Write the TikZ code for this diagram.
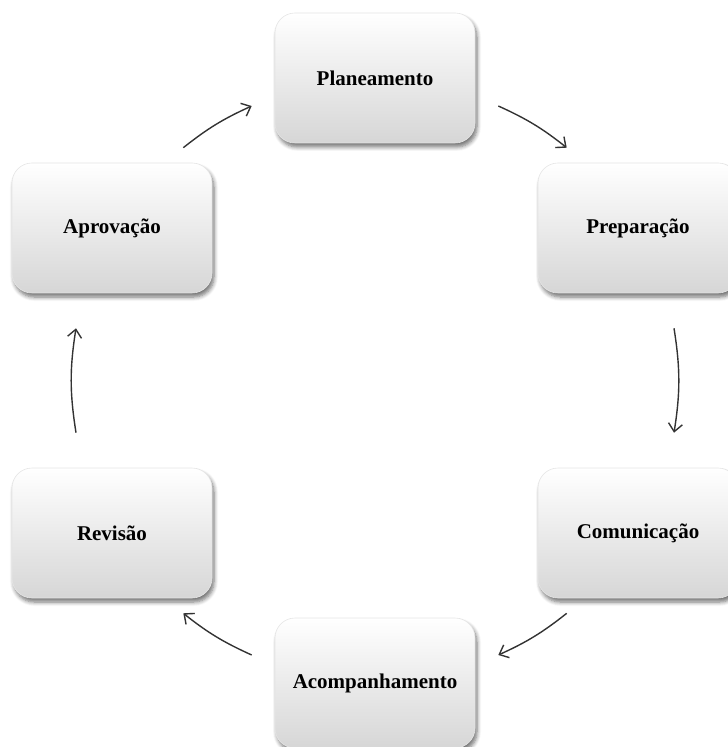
\documentclass[tikz,border=0pt]{standalone}
\usepackage{fontspec}
\setmainfont{Liberation Serif}
\usetikzlibrary{arrows.meta,shadows.blur}

\begin{document}
\begin{tikzpicture}[x=0.5pt,y=-0.5pt]

\tikzset{
  stage/.style={rectangle, rounded corners=10pt, minimum width=100pt, minimum height=65pt, inner sep=0pt,
    draw=black!10, line width=0.3pt, top color=white, middle color=black!1, bottom color=black!16,
    blur shadow={shadow xshift=1pt, shadow yshift=-2pt, shadow blur steps=6, shadow blur radius=2pt, shadow opacity=55},
    font=\fontsize{10.5}{12}\selectfont\bfseries},
  flow/.style={draw=black!80, line width=0.7pt, -{Straight Barb[length=4pt,width=7pt]}}
}

\useasboundingbox (0,0) rectangle (727,747);

\node[stage] (plan) at (375,78) {Planeamento};
\node[stage] (prep) at (638,228) {Preparação};
\node[stage] (comm) at (638,533) {Comunicação};
\node[stage] (acomp) at (375,683) {Acompanhamento};
\node[stage] (rev) at (112,533) {Revisão};
\node[stage] (aprov) at (112,228) {Aprovação};

\draw[flow] ([shift={(-29,-15)}]aprov.north east) to[bend left=7] ([shift={(-23,28)}]plan.west);
\draw[flow] ([shift={(23,28)}]plan.east) to[bend left=7] ([shift={(29,-15)}]prep.north west);
\draw[flow] ([shift={(36,35)}]prep.south) to[bend left=9] ([shift={(36,-35)}]comm.north);
\draw[flow] ([shift={(29,15)}]comm.south west) to[bend left=7] ([shift={(23,-28)}]acomp.east);
\draw[flow] ([shift={(-23,-28)}]acomp.west) to[bend left=7] ([shift={(-29,15)}]rev.south east);
\draw[flow] ([shift={(-36,-35)}]rev.north) to[bend left=9] ([shift={(-36,35)}]aprov.south);

\end{tikzpicture}
\end{document}
